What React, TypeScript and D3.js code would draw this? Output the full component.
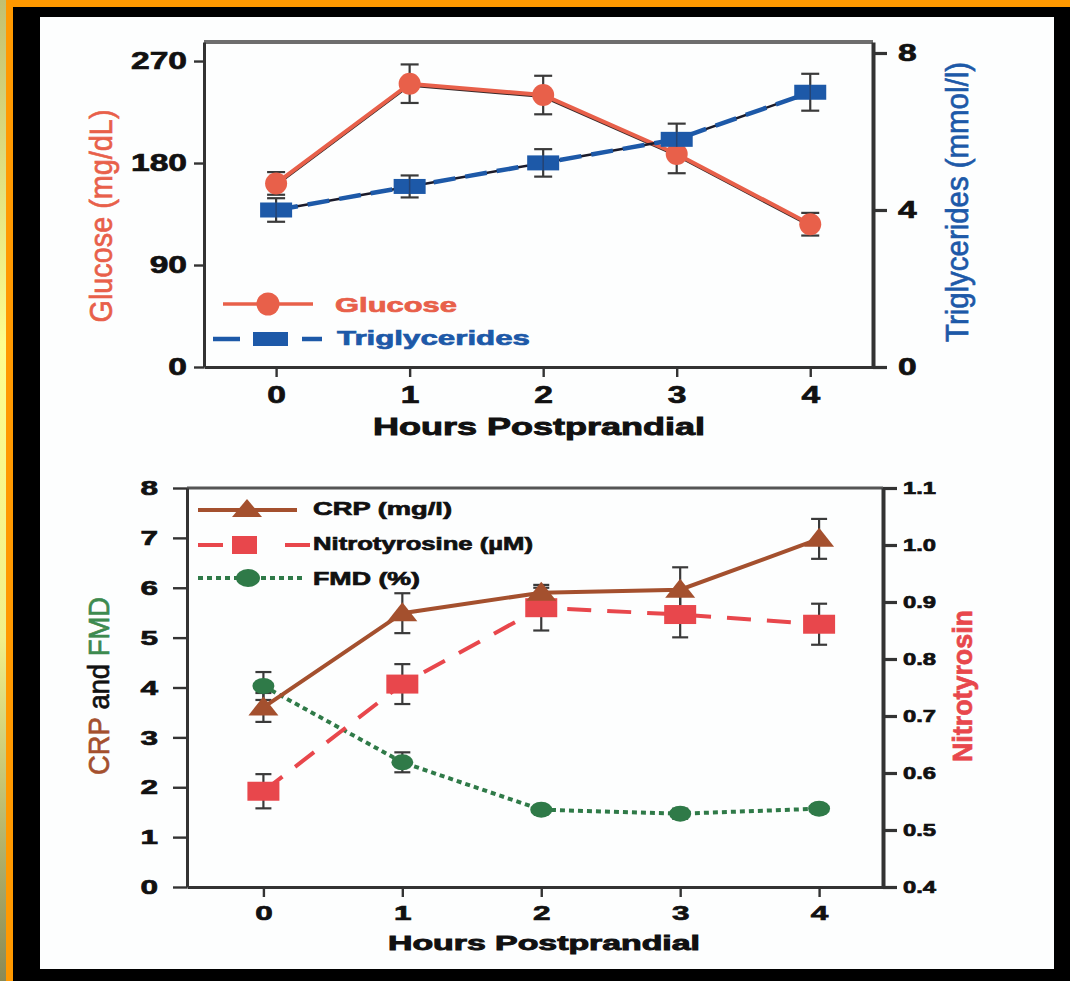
import {useEffect, useRef} from 'react';
import * as d3 from 'd3';

const hours = [0, 1, 2, 3, 4];

// top panel
const glucose = [162, 250, 240, 188, 126];
const glucoseErr = [10, 17, 17, 17, 10];
const triglycerides = [4.0, 4.6, 5.2, 5.8, 7.0];
const triglyceridesErr = [0.3, 0.28, 0.35, 0.4, 0.47];
const glucoseTicks = [0, 90, 180, 270];
const trigTicks = [0, 4, 8];

// bottom panel
const crp = [3.6, 5.49, 5.9, 5.96, 6.98];
const crpErr = [0.29, 0.4, 0.1, 0.45, 0.4];
const nitrotyrosine = [0.568, 0.756, 0.89, 0.878, 0.861];
const nitrotyrosineErr = [0.03, 0.035, 0.04, 0.04, 0.036];
const fmd = [4.03, 2.5, 1.55, 1.47, 1.57];
const fmdErr = [0.28, 0.2, 0.07, 0.1, 0.08];
const crpTicks = [0, 1, 2, 3, 4, 5, 6, 7, 8];
const nitroTicks = [0.4, 0.5, 0.6, 0.7, 0.8, 0.9, 1.0, 1.1];

const FONT = '"Liberation Sans", Arial, Helvetica, sans-serif';
const C_GLU = '#e8604a';
const C_TRI = '#1d59a8';
const C_CRP = '#a4502e';
const C_NIT = '#e8474c';
const C_FMD = '#2f7a48';
const C_ERR = '#3a3a3a';
const C_AX = '#333';

const styleAxis = (g: any, sw: number, fontSize: number, sx: number) => {
  g.select('.domain').attr('stroke', C_AX).attr('stroke-width', sw);
  g.selectAll('.tick line').attr('stroke', C_AX).attr('stroke-width', sw * 0.8);
  g.selectAll('.tick text').each(function (this: any) {
    const t = d3.select(this);
    const x = +t.attr('x') || 0;
    const y = +t.attr('y') || 0;
    t.attr('x', 0)
      .attr('y', 0)
      .attr('transform', `translate(${x},${y}) scale(${sx},1)`)
      .attr('fill', '#111')
      .attr('stroke', '#111')
      .attr('stroke-width', 0.7)
      .attr('font-family', FONT)
      .attr('font-weight', 'bold')
      .attr('font-size', fontSize);
  });
};

const addText = (g: any, x: number, y: number, str: string, size: number, fill: string, len: number, weight = 'bold', anchor = 'start', sw = 0.7) =>
  g
    .append('text')
    .attr('x', x)
    .attr('y', y)
    .attr('font-family', FONT)
    .attr('font-size', size)
    .attr('font-weight', weight)
    .attr('fill', fill)
    .attr('stroke', fill)
    .attr('stroke-width', sw)
    .attr('text-anchor', anchor)
    .attr('textLength', len)
    .attr('lengthAdjust', 'spacingAndGlyphs')
    .text(str);

const errorBars = (g: any, x: any, y: any, vals: number[], errs: number[], cap: number) => {
  const eg = g.append('g');
  hours.forEach((h, i) => {
    const cx = x(h);
    const y1 = y(vals[i] + errs[i]);
    const y2 = y(vals[i] - errs[i]);
    eg.append('line').attr('x1', cx).attr('x2', cx).attr('y1', y1).attr('y2', y2).attr('stroke', C_ERR).attr('stroke-width', 2.2);
    [y1, y2].forEach((yy) =>
      eg.append('line').attr('x1', cx - cap).attr('x2', cx + cap).attr('y1', yy).attr('y2', yy).attr('stroke', C_ERR).attr('stroke-width', 2.2)
    );
  });
};

const App = () => {
  const ref = useRef<HTMLDivElement>(null);

  useEffect(() => {
    const svg = d3.select(ref.current).append('svg').attr('width', 1070).attr('height', 981).style('display', 'block');

    // page frame
    const grad = svg.append('defs').append('linearGradient').attr('id', 'strip').attr('x1', 0).attr('y1', 0).attr('x2', 0).attr('y2', 1);
    grad.append('stop').attr('offset', '0%').attr('stop-color', '#c2c070');
    grad.append('stop').attr('offset', '35%').attr('stop-color', '#fdfd8f');
    grad.append('stop').attr('offset', '65%').attr('stop-color', '#f1ef8a');
    grad.append('stop').attr('offset', '100%').attr('stop-color', '#8a8a56');
    svg.append('rect').attr('width', 1070).attr('height', 981).attr('fill', '#000');
    svg.append('rect').attr('x', 6).attr('y', 0).attr('width', 1064).attr('height', 7).attr('fill', '#ff9900');
    svg.append('rect').attr('x', 6).attr('y', 0).attr('width', 7).attr('height', 981).attr('fill', '#ff9900');
    svg.append('rect').attr('x', 0).attr('y', 0).attr('width', 6).attr('height', 981).attr('fill', 'url(#strip)');
    svg.append('rect').attr('x', 40).attr('y', 17).attr('width', 1014).attr('height', 952).attr('fill', '#fdfefe');

    // ---------- top panel ----------
    const top = svg.append('g');
    const x1 = d3.scaleLinear().domain([-0.54, 4.47]).range([204, 873]);
    const yG = d3.scaleLinear().domain([0, 286.8]).range([367, 42]);
    const yT = d3.scaleLinear().domain([0, 8.28]).range([367, 42]);

    top.append('line').attr('x1', 204).attr('x2', 873).attr('y1', 42).attr('y2', 42).attr('stroke', '#6e6e6e').attr('stroke-width', 4);

    const gl = top.append('g').attr('transform', 'translate(204,0)')
      .call(d3.axisLeft(yG).tickValues(glucoseTicks).tickSize(10).tickSizeOuter(0).tickPadding(7).tickFormat(d3.format('d')));
    styleAxis(gl, 3, 24, 1.4);
    const gr = top.append('g').attr('transform', 'translate(873,0)')
      .call(d3.axisRight(yT).tickValues(trigTicks).tickSize(14).tickSizeOuter(0).tickPadding(11).tickFormat(d3.format('d')));
    styleAxis(gr, 4, 24, 1.4);
    const gb = top.append('g').attr('transform', 'translate(0,367)')
      .call(d3.axisBottom(x1).tickValues(hours).tickSize(10).tickSizeOuter(0).tickPadding(9).tickFormat(d3.format('d')));
    styleAxis(gb, 3, 24, 1.4);

    addText(top, 539, 435, 'Hours Postprandial', 24, '#111', 332, 'bold', 'middle', 0.9);
    addText(top, 0, 0, 'Glucose (mg/dL)', 28, C_GLU, 213, 'normal', 'middle', 0.6)
      .attr('transform', 'translate(112,216) rotate(-90) scale(1,1.15)').attr('x', 0).attr('y', 0);
    addText(top, 0, 0, 'Triglycerides (mmol/l)', 28, C_TRI, 280, 'normal', 'middle', 0.6)
      .attr('transform', 'translate(968,202) rotate(-90) scale(1,1.15)').attr('x', 0).attr('y', 0);

    errorBars(top, x1, yG, glucose, glucoseErr, 9);
    errorBars(top, x1, yT, triglycerides, triglyceridesErr, 9);

    const gluLine = d3.line<number>().x((_, i) => x1(hours[i])).y((d) => yG(d));
    const triLine = d3.line<number>().x((_, i) => x1(hours[i])).y((d) => yT(d));
    top.append('path').datum(glucose).attr('d', gluLine).attr('fill', 'none').attr('stroke', '#3a2a2a').attr('stroke-width', 2).attr('transform', 'translate(0,2)');
    top.append('path').datum(glucose).attr('d', gluLine).attr('fill', 'none').attr('stroke', C_GLU).attr('stroke-width', 4);
    top.append('path').datum(triglycerides).attr('d', triLine).attr('fill', 'none').attr('stroke', '#1a1a2a').attr('stroke-width', 2.5);
    top.append('path').datum(triglycerides).attr('d', triLine).attr('fill', 'none').attr('stroke', C_TRI).attr('stroke-width', 4.5).attr('stroke-dasharray', '22 10');

    top.selectAll('circle.glu').data(glucose).enter().append('circle')
      .attr('cx', (_, i) => x1(hours[i])).attr('cy', (d) => yG(d)).attr('r', 11).attr('fill', C_GLU);
    top.selectAll('rect.tri').data(triglycerides).enter().append('rect')
      .attr('x', (_, i) => x1(hours[i]) - 16).attr('y', (d) => yT(d) - 7.5).attr('width', 32).attr('height', 15).attr('fill', C_TRI);
    // error stems visible through the squares
    top.selectAll('line.tristem').data(triglycerides).enter().append('line')
      .attr('x1', (_, i) => x1(hours[i])).attr('x2', (_, i) => x1(hours[i]))
      .attr('y1', (d) => yT(d) - 7.5).attr('y2', (d) => yT(d) + 7.5).attr('stroke', '#2a3550').attr('stroke-width', 1.5).attr('opacity', 0.6);

    // top legend
    top.append('line').attr('x1', 223).attr('x2', 313).attr('y1', 304).attr('y2', 304).attr('stroke', C_GLU).attr('stroke-width', 3.5);
    top.append('circle').attr('cx', 268).attr('cy', 304).attr('r', 11.5).attr('fill', C_GLU);
    addText(top, 335, 312, 'Glucose', 21, C_GLU, 122);
    top.append('line').attr('x1', 213).attr('x2', 240).attr('y1', 339).attr('y2', 339).attr('stroke', C_TRI).attr('stroke-width', 4.5);
    top.append('rect').attr('x', 253).attr('y', 332).attr('width', 35).attr('height', 14).attr('fill', C_TRI);
    top.append('line').attr('x1', 302).attr('x2', 322).attr('y1', 339).attr('y2', 339).attr('stroke', C_TRI).attr('stroke-width', 4.5);
    addText(top, 337, 345, 'Triglycerides', 21, C_TRI, 193);

    // ---------- bottom panel ----------
    const bot = svg.append('g');
    const x2 = d3.scaleLinear().domain([-0.55, 4.46]).range([187, 883]);
    const yC = d3.scaleLinear().domain([0, 8]).range([887, 488]);
    const yN = d3.scaleLinear().domain([0.4, 1.1]).range([887, 488]);

    bot.append('line').attr('x1', 187).attr('x2', 883).attr('y1', 488).attr('y2', 488).attr('stroke', '#555').attr('stroke-width', 3);

    const bl = bot.append('g').attr('transform', 'translate(187,0)')
      .call(d3.axisLeft(yC).tickValues(crpTicks).tickSize(14).tickSizeOuter(0).tickPadding(15).tickFormat(d3.format('d')));
    styleAxis(bl, 3, 21, 1.5);
    const br = bot.append('g').attr('transform', 'translate(883,0)')
      .call(d3.axisRight(yN).tickValues(nitroTicks).tickSize(14).tickSizeOuter(0).tickPadding(6).tickFormat(d3.format('.1f')));
    styleAxis(br, 4, 17, 1.4);
    const bb = bot.append('g').attr('transform', 'translate(0,887)')
      .call(d3.axisBottom(x2).tickValues(hours).tickSize(10).tickSizeOuter(0).tickPadding(8).tickFormat(d3.format('d')));
    styleAxis(bb, 3, 21, 1.5);

    addText(bot, 544, 950, 'Hours Postprandial', 20, '#111', 312, 'bold', 'middle', 0.9);
    const lt = bot.append('text').attr('transform', 'translate(109,686) rotate(-90) scale(1,1.15)')
      .attr('font-family', FONT).attr('font-size', 26).attr('text-anchor', 'middle').attr('stroke-width', 0.6)
      .attr('textLength', 178).attr('lengthAdjust', 'spacingAndGlyphs');
    lt.append('tspan').attr('fill', C_CRP).attr('stroke', C_CRP).text('CRP');
    lt.append('tspan').attr('fill', '#111').attr('stroke', '#111').text(' and ');
    lt.append('tspan').attr('fill', '#3d8a4f').attr('stroke', '#3d8a4f').text('FMD');
    addText(bot, 0, 0, 'Nitrotyrosin', 27, C_NIT, 152, 'bold', 'middle')
      .attr('transform', 'translate(972,686) rotate(-90)').attr('x', 0).attr('y', 0);

    errorBars(bot, x2, yC, crp, crpErr, 8);
    errorBars(bot, x2, yN, nitrotyrosine, nitrotyrosineErr, 8);
    errorBars(bot, x2, yC, fmd, fmdErr, 8);

    const crpLine = d3.line<number>().x((_, i) => x2(hours[i])).y((d) => yC(d));
    const nitLine = d3.line<number>().x((_, i) => x2(hours[i])).y((d) => yN(d));
    bot.append('path').datum(fmd).attr('d', crpLine).attr('fill', 'none').attr('stroke', C_FMD).attr('stroke-width', 4).attr('stroke-dasharray', '5 4');
    bot.append('path').datum(nitrotyrosine).attr('d', nitLine).attr('fill', 'none').attr('stroke', C_NIT).attr('stroke-width', 4).attr('stroke-dasharray', '24 16');
    bot.append('path').datum(crp).attr('d', crpLine).attr('fill', 'none').attr('stroke', C_CRP).attr('stroke-width', 4);

    bot.selectAll('ellipse.fmd').data(fmd).enter().append('ellipse')
      .attr('cx', (_, i) => x2(hours[i])).attr('cy', (d) => yC(d)).attr('rx', 11).attr('ry', 8).attr('fill', C_FMD);
    bot.selectAll('rect.nit').data(nitrotyrosine).enter().append('rect')
      .attr('x', (_, i) => x2(hours[i]) - 16).attr('y', (d) => yN(d) - 9.5).attr('width', 32).attr('height', 19).attr('fill', C_NIT);
    bot.selectAll('path.crp').data(crp).enter().append('path')
      .attr('transform', (d, i) => `translate(${x2(hours[i])},${yC(d)})`)
      .attr('d', 'M0,-11 L15,8 L-15,8 Z').attr('fill', C_CRP);

    // bottom legend
    bot.append('line').attr('x1', 198).attr('x2', 297).attr('y1', 510).attr('y2', 510).attr('stroke', C_CRP).attr('stroke-width', 4);
    bot.append('path').attr('transform', 'translate(247,510)').attr('d', 'M0,-11 L15,7 L-15,7 Z').attr('fill', C_CRP);
    addText(bot, 313, 515, 'CRP (mg/l)', 18.5, '#111', 139);
    bot.append('line').attr('x1', 198).attr('x2', 223).attr('y1', 545).attr('y2', 545).attr('stroke', C_NIT).attr('stroke-width', 4);
    bot.append('rect').attr('x', 232).attr('y', 536).attr('width', 25).attr('height', 18).attr('fill', C_NIT);
    bot.append('line').attr('x1', 285).attr('x2', 310).attr('y1', 545).attr('y2', 545).attr('stroke', C_NIT).attr('stroke-width', 4);
    addText(bot, 313, 550, 'Nitrotyrosine (µM)', 18.5, '#111', 220);
    bot.append('line').attr('x1', 198).attr('x2', 306).attr('y1', 578).attr('y2', 578).attr('stroke', C_FMD).attr('stroke-width', 4).attr('stroke-dasharray', '5 4');
    bot.append('ellipse').attr('cx', 248).attr('cy', 578).attr('rx', 12).attr('ry', 9).attr('fill', C_FMD);
    addText(bot, 313, 585, 'FMD (%)', 18.5, '#111', 107);

    return () => {
      svg.remove();
    };
  }, []);

  return <div ref={ref} style={{position: 'absolute', left: 0, top: 0}} />;
};

export default App;
